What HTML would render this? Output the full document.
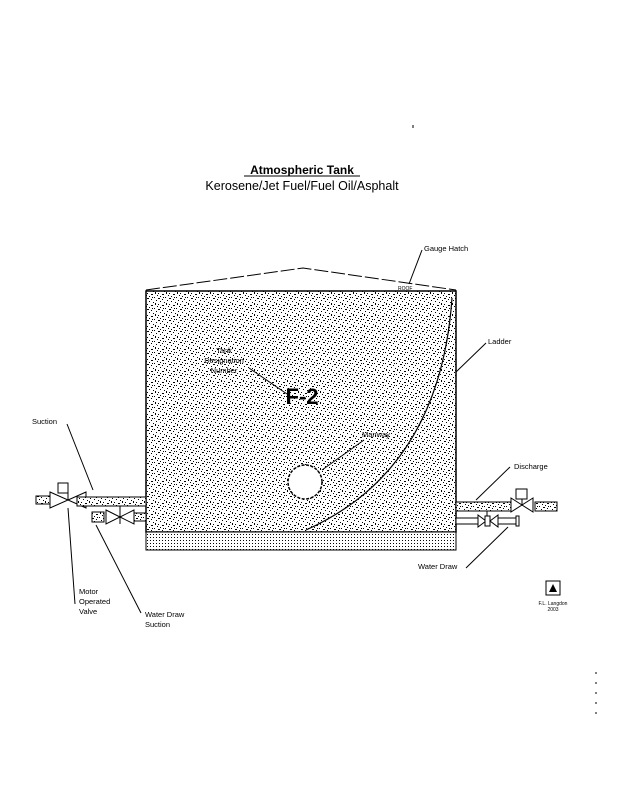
<!DOCTYPE html>
<html><head><style>
body{margin:0;background:#fff;}
svg{display:block}
text{font-family:"Liberation Sans",sans-serif;fill:#000}
</style></head><body>
<svg width="619" height="800" viewBox="0 0 619 800" xmlns="http://www.w3.org/2000/svg">
<defs>
<pattern id="sp" width="11" height="11" patternUnits="userSpaceOnUse">
<rect width="11" height="11" fill="#fff"/>
<g fill="#000">
<rect x="0" y="0" width="1" height="1"/>
<rect x="4" y="1" width="2" height="1"/>
<rect x="8" y="2" width="1" height="1"/>
<rect x="2" y="3" width="1" height="1"/>
<rect x="6" y="4" width="1" height="1"/>
<rect x="10" y="5" width="1" height="1"/>
<rect x="1" y="6" width="1" height="2"/>
<rect x="4" y="7" width="1" height="1"/>
<rect x="8" y="8" width="2" height="1"/>
<rect x="3" y="9" width="1" height="1"/>
<rect x="6" y="10" width="1" height="1"/>
<rect x="9" y="0" width="1" height="1"/>
</g>
</pattern>
<pattern id="gr" width="3" height="3" patternUnits="userSpaceOnUse">
<rect width="3" height="3" fill="#fff"/>
<rect x="0" y="0" width="1" height="1" fill="#000"/>
</pattern>
</defs>
<text x="302" y="174" font-size="12" font-weight="bold" text-anchor="middle">Atmospheric Tank</text>
<line x1="244" y1="176" x2="360" y2="176" stroke="#000"/>
<text x="302" y="190" font-size="12.5" text-anchor="middle">Kerosene/Jet Fuel/Fuel Oil/Asphalt</text>
<polyline points="146,290 303,268 456,290" fill="none" stroke="#000" stroke-width="1" stroke-dasharray="14,3"/>
<text x="398" y="290" font-size="5">ROOF</text>
<rect x="146" y="291" width="310" height="241" fill="url(#sp)" stroke="#000" stroke-width="1.5"/>
<rect x="146" y="532" width="310" height="18" fill="url(#gr)" stroke="#000" stroke-width="1"/>
<path d="M452,298 Q440,470 306,530" fill="none" stroke="#000" stroke-width="1.2"/>
<circle cx="305" cy="482" r="17" fill="#fff" stroke="#000" stroke-width="1.5" stroke-dasharray="3,1.5"/>
<text x="302" y="404" font-size="22" font-weight="bold" text-anchor="middle">F-2</text>
<g font-size="7.5">
<text x="424" y="251">Gauge Hatch</text>
<line x1="422" y1="250" x2="409" y2="284" stroke="#000"/>
<text x="488" y="344">Ladder</text>
<line x1="486" y1="343" x2="456" y2="372" stroke="#000"/>
<text x="224" y="353" text-anchor="middle">Tank</text>
<text x="224" y="363" text-anchor="middle">Designation</text>
<text x="224" y="373" text-anchor="middle">Number</text>
<line x1="249" y1="368" x2="287" y2="394" stroke="#000"/>
<text x="362" y="437">Manway</text>
<line x1="364" y1="440" x2="322" y2="470" stroke="#000"/>
<text x="32" y="424">Suction</text>
<line x1="67" y1="424" x2="93" y2="490" stroke="#000"/>
<text x="79" y="594">Motor</text>
<text x="79" y="604">Operated</text>
<text x="79" y="614">Valve</text>
<line x1="75" y1="604" x2="68" y2="508" stroke="#000"/>
<text x="145" y="617">Water Draw</text>
<text x="145" y="627">Suction</text>
<line x1="141" y1="613" x2="96" y2="525" stroke="#000"/>
<text x="514" y="469">Discharge</text>
<line x1="510" y1="467" x2="476" y2="500" stroke="#000"/>
<text x="418" y="569">Water Draw</text>
<line x1="466" y1="568" x2="508" y2="527" stroke="#000"/>
</g>
<rect x="36" y="496" width="14" height="8" fill="url(#sp)" stroke="#000"/>
<polygon points="50,492 68,500 50,508" fill="#fff" stroke="#000"/>
<polygon points="86,492 68,500 86,508" fill="#fff" stroke="#000"/>
<line x1="68" y1="500" x2="68" y2="492" stroke="#000"/>
<rect x="58" y="483" width="10" height="10" fill="#fff" stroke="#000"/>
<rect x="77" y="497" width="69" height="9" fill="url(#sp)" stroke="#000"/>
<rect x="92" y="512" width="12" height="10" fill="url(#sp)" stroke="#000"/>
<polygon points="106,510 120,517 106,524" fill="#fff" stroke="#000"/>
<polygon points="134,510 120,517 134,524" fill="#fff" stroke="#000"/>
<line x1="120" y1="506" x2="120" y2="524" stroke="#000"/>
<rect x="134" y="513" width="12" height="8" fill="url(#sp)" stroke="#000"/>
<rect x="456" y="502" width="55" height="9" fill="url(#sp)" stroke="#000"/>
<polygon points="511,498 522,505 511,512" fill="#fff" stroke="#000"/>
<polygon points="533,498 522,505 533,512" fill="#fff" stroke="#000"/>
<line x1="522" y1="505" x2="522" y2="499" stroke="#000"/>
<rect x="516" y="489" width="11" height="10" fill="#fff" stroke="#000"/>
<rect x="535" y="502" width="22" height="9" fill="url(#sp)" stroke="#000"/>
<rect x="456" y="518" width="22" height="6" fill="#fff" stroke="#000"/>
<polygon points="478,515 486,521 478,527" fill="#fff" stroke="#000"/>
<rect x="485" y="516" width="5" height="10" fill="#fff" stroke="#000"/>
<polygon points="498,515 490,521 498,527" fill="#fff" stroke="#000"/>
<rect x="498" y="518" width="18" height="6" fill="#fff" stroke="#000"/>
<rect x="516" y="516" width="3" height="10" fill="#fff" stroke="#000"/>
<line x1="487" y1="511" x2="487" y2="516" stroke="#000"/>
<rect x="546" y="581" width="14" height="14" fill="#fff" stroke="#000"/>
<path d="M549,592 L553,584 L557,592 Z" fill="#000"/>
<text x="553" y="605" font-size="5" text-anchor="middle">F.L. Langdon</text>
<text x="553" y="611" font-size="5" text-anchor="middle">2003</text>
<line x1="413" y1="125" x2="413" y2="128" stroke="#000"/>
<line x1="596" y1="672" x2="596" y2="720" stroke="#000" stroke-dasharray="2,8"/>
</svg>
</body></html>
